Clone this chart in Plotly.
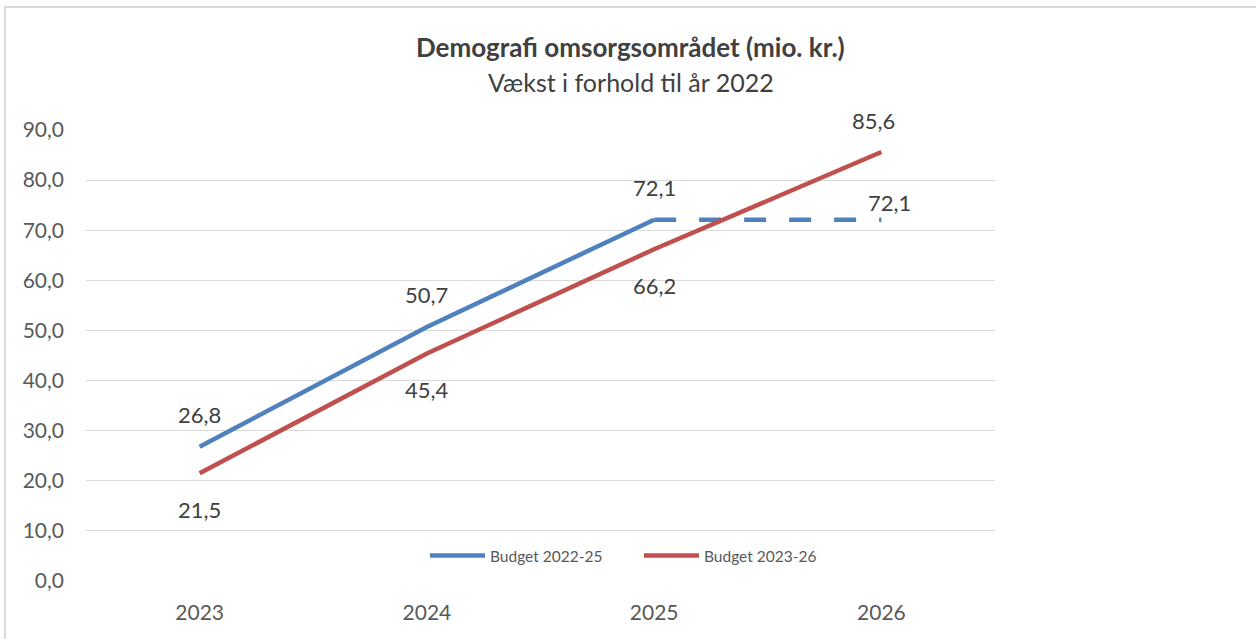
import plotly.graph_objects as go

years = ["2023", "2024", "2025", "2026"]
budget_2022_25 = [26.8, 50.7, 72.1]          # solid part (2023-2025)
budget_2022_25_ext = [72.1, 72.1]            # dashed continuation (2025-2026)
budget_2023_26 = [21.5, 45.4, 66.2, 85.6]
y_ticks = [0, 10, 20, 30, 40, 50, 60, 70, 80, 90]

title = "Demografi omsorgsområdet (mio. kr.)"
subtitle = "Vækst i forhold til år 2022"
name_blue = "Budget 2022-25"
name_red = "Budget 2023-26"

BLUE = "#4F81BD"
RED = "#C0504D"
FONT = "Lato"
TXT = "#404040"


def fmt(v):
    return f"{v:.1f}".replace(".", ",")


fig = go.Figure()

fig.add_trace(go.Scatter(
    x=years[:3], y=budget_2022_25, mode="lines", name=name_blue,
    line=dict(color=BLUE, width=4.5), hoverinfo="skip"))
fig.add_trace(go.Scatter(
    x=years[2:], y=budget_2022_25_ext, mode="lines", showlegend=False,
    line=dict(color=BLUE, width=4.5, dash="22px,23px"), hoverinfo="skip"))
fig.add_trace(go.Scatter(
    x=years, y=budget_2023_26, mode="lines", name=name_red,
    line=dict(color=RED, width=4.5), hoverinfo="skip"))

# data labels
blue_vals = budget_2022_25 + budget_2022_25_ext[1:]
blue_shift = [(0, 32), (0, 32), (0, 32), (8, 17)]
red_shift = [(0, -36), (0, -36), (0, -36), (-8, 32)]
ann = []
for i, (v, (dx, dy)) in enumerate(zip(blue_vals, blue_shift)):
    ann.append(dict(x=i, y=v, xref="x", yref="y", text=fmt(v), showarrow=False,
                    xshift=dx, yshift=dy, font=dict(family=FONT, size=22, color=TXT)))
for i, (v, (dx, dy)) in enumerate(zip(budget_2023_26, red_shift)):
    ann.append(dict(x=i, y=v, xref="x", yref="y", text=fmt(v), showarrow=False,
                    xshift=dx, yshift=dy, font=dict(family=FONT, size=22, color=TXT)))

W, H = 1256, 639
L, R, T, B = 86, 1256 - 995, 130, 639 - 581
pw, ph = W - L - R, H - T - B


def px(xp):
    return (xp - L) / pw


def py(yp):
    return (H - B - yp) / ph


ann.append(dict(x=px(630), y=py(47), xref="paper", yref="paper", text=f"<b>{title}</b>",
                showarrow=False, xanchor="center", yanchor="middle",
                font=dict(family=FONT, size=26, color=TXT)))
ann.append(dict(x=px(631), y=py(82), xref="paper", yref="paper", text=subtitle,
                showarrow=False, xanchor="center", yanchor="middle",
                font=dict(family=FONT, size=25, color=TXT)))

fig.update_layout(
    width=W, height=H,
    margin=dict(l=L, r=R, t=T, b=B, autoexpand=False),
    paper_bgcolor="white", plot_bgcolor="white",
    separators=",.",
    showlegend=True,
    legend=dict(orientation="h", x=px(425), xanchor="left", y=py(556), yanchor="middle",
                font=dict(family=FONT, size=15.5, color="#595959"),
                itemwidth=55, entrywidth=144, entrywidthmode="pixels",
                bgcolor="rgba(0,0,0,0)", traceorder="normal"),
    annotations=ann,
    shapes=[dict(type="rect", xref="paper", yref="paper",
                 x0=px(5), x1=px(1300), y0=py(7), y1=py(700),
                 line=dict(color="#d9d9d9", width=2), layer="below")],
    xaxis=dict(type="category", range=[-0.5, 3.5], showgrid=False, showline=False,
               zeroline=False, ticks="", ticklabelstandoff=17,
               tickfont=dict(family=FONT, size=21, color="#595959")),
    yaxis=dict(range=[0, 90], tickvals=y_ticks, tickformat=".1f", showgrid=True,
               gridcolor="#d9d9d9", gridwidth=1, zeroline=False, showline=False,
               ticks="", ticklabelstandoff=21,
               tickfont=dict(family=FONT, size=21, color="#595959")),
    font=dict(family=FONT),
)

fig.write_html("out.html", config={"displayModeBar": False},
               post_script="document.body.style.margin='0';")
